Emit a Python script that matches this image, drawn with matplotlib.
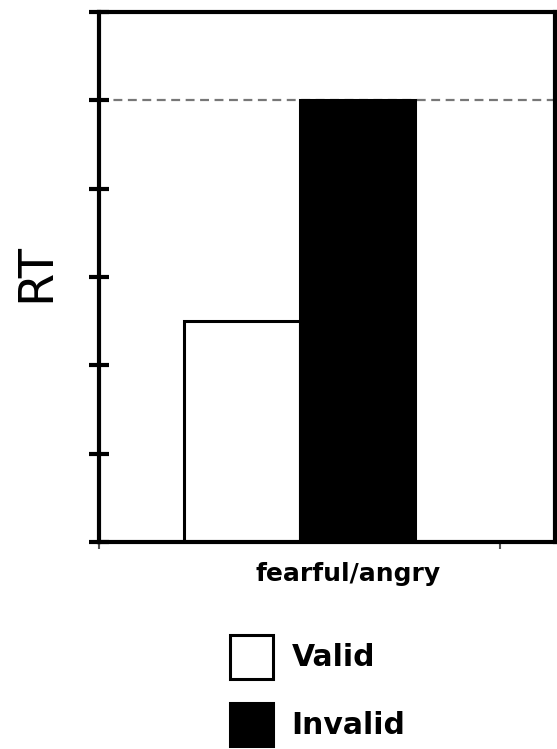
import matplotlib
matplotlib.use("Agg")
import matplotlib.pyplot as plt
from matplotlib.patches import Patch
import matplotlib.transforms as mtransforms

categories = ["fearful/angry"]
series_names = ["Valid", "Invalid"]
valid = [2.5]
invalid = [5.0]
reference_level = 5.0
y_ticks = [0, 1, 2, 3, 4, 5, 6]

fig = plt.figure(figsize=(5.57, 7.49), dpi=100)
ax = fig.add_axes([99/557, 1-542/749, (555-99)/557, (542-12)/749])

x = list(range(len(categories)))
w = 0.2875
ax.bar([xi - w/2 for xi in x], valid, width=w, color="white", edgecolor="black", linewidth=2.2, label=series_names[0], zorder=2)
ax.bar([xi + w/2 for xi in x], invalid, width=w, color="black", edgecolor="black", linewidth=2.2, label=series_names[1], zorder=2)
ax.axhline(reference_level, color="#777777", lw=1.6, linestyle=(0, (4, 2.5)), zorder=1)

ax.set_ylim(y_ticks[0], y_ticks[-1])
ax.set_xlim(-0.5, 0.636)
ax.set_yticks(y_ticks)
ax.set_yticklabels([])
ax.tick_params(axis="y", direction="inout", length=14, width=3)
ax.set_xticks([-0.5, 0.5])
ax.set_xticklabels([])
ax.tick_params(axis="x", direction="out", length=5, width=1.5, color="#555555")
for s in ax.spines.values():
    s.set_linewidth(3)

lab_tr = mtransforms.offset_copy(ax.get_xaxis_transform(), fig=fig, x=48, y=-39, units="dots")
for xi, c in zip(x, categories):
    ax.text(xi, 0, c, transform=lab_tr, ha="center", va="baseline",
            fontsize=18, fontweight="bold", family="DejaVu Sans")

fig.text(35.5/557, 1-273/749, "RT", rotation=90, ha="center", va="center",
         fontsize=34.5, family="DejaVu Sans")

handles = [Patch(facecolor="white", edgecolor="black", linewidth=2.2),
           Patch(facecolor="black", edgecolor="black", linewidth=2.2)]
fig.legend(handles, series_names, loc="upper left", bbox_to_anchor=(230/557, 1-635/749),
           frameon=False, borderpad=0, borderaxespad=0, handlelength=1.43, handleheight=1.875,
           handletextpad=0.63, labelspacing=0.8,
           prop={"size": 21.5, "weight": "bold", "family": "DejaVu Sans"})

fig.savefig("out.png", dpi=100)
